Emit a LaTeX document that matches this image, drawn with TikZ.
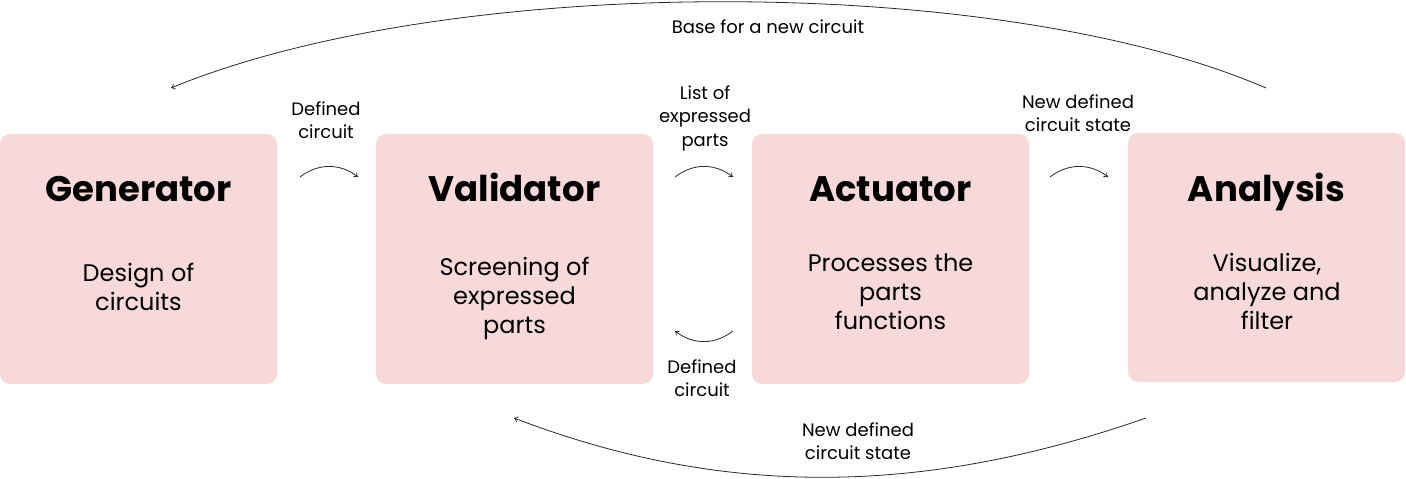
\documentclass[tikz,border=0pt]{standalone}
\usepackage{fontspec}
\setmainfont{Poppins}
\usetikzlibrary{arrows.meta}
\definecolor{boxpink}{RGB}{247,217,218}
\definecolor{linegray}{RGB}{40,40,40}
\tikzset{
  stagebox/.style={fill=boxpink, rounded corners=10pt, minimum width=277pt, minimum height=250pt, inner sep=0pt},
  stagetitle/.style={font=\fontsize{35.5}{40}\selectfont\bfseries, anchor=base},
  stagetext/.style={font=\fontsize{24}{29}\selectfont, align=center},
  flowlabel/.style={font=\fontsize{18}{23.5}\selectfont, align=center},
  flowarrow/.style={draw=linegray, line width=0.8pt, -{To[length=4pt,width=6pt]}}
}
\begin{document}
\begin{tikzpicture}[x=1pt,y=-1pt]
  \useasboundingbox (0,0) rectangle (1406,479);

  % Drawing the four stages
  \node [stagebox] (generator) at (138.5,259) {};
  \node [stagebox] (validator) at (514.5,259) {};
  \node [stagebox] (actuator) at (890.5,259) {};
  \node [stagebox, minimum height=249pt] (analysis) at (1266.5,257.5) {};

  % Stage titles
  \node [stagetitle] (generatortitle) at (138.5,201) {Generator};
  \node [stagetitle] (validatortitle) at (514.5,201) {Validator};
  \node [stagetitle] (actuatortitle) at (890.5,201) {Actuator};
  \node [stagetitle] (analysistitle) at (1266.5,201) {Analysis};

  % Stage descriptions
  \node [stagetext] (generatortext) at (138.5,287) {Design of\\circuits};
  \node [stagetext] (validatortext) at (514.5,298) {Screening of\\expressed\\parts};
  \node [stagetext] (actuatortext) at (890.5,292) {Processes the\\parts\\functions};
  \node [stagetext] (analysistext) at (1267,291) {Visualize,\\analyze and\\filter};

  % Marking the end points of the short arrows
  \coordinate (genout) at (300,177);
  \coordinate (valin) at (358,177);
  \coordinate (valout) at (675,177);
  \coordinate (actin) at (733,177);
  \coordinate (actout) at (1050,177);
  \coordinate (anain) at (1108,177);
  \coordinate (actback) at (733,331);
  \coordinate (valback) at (675,331);

  % Drawing the short arrows
  \draw [flowarrow] (genout) .. controls (318,163) and (340,163) .. (valin);
  \draw [flowarrow] (valout) .. controls (693,163) and (715,163) .. (actin);
  \draw [flowarrow] (actout) .. controls (1068,163) and (1090,163) .. (anain);
  \draw [flowarrow] (actback) .. controls (715,345) and (693,345) .. (valback);

  % Labels of the short arrows
  \node [flowlabel] (definedlabel) at (326,120) {Defined\\circuit};
  \node [flowlabel] (listlabel) at (705,118) {List of\\expressed\\parts};
  \node [flowlabel] (newstatelabel) at (1078,113) {New defined\\circuit state};
  \node [flowlabel] (backlabel) at (702,378) {Defined\\circuit};

  % Marking the end points of the long arrows
  \coordinate (topstart) at (1266,88);
  \coordinate (topend) at (171,88);
  \coordinate (bottomstart) at (1146,418);
  \coordinate (bottomend) at (514,418);

  % Drawing the long arrows
  \draw [flowarrow] (topstart) .. controls (1000,-27) and (450,-27) .. (topend);
  \draw [flowarrow] (bottomstart) .. controls (920,497) and (720,497) .. (bottomend);

  % Labels of the long arrows
  \node [flowlabel] (baselabel) at (768,27) {Base for a new circuit};
  \node [flowlabel] (bottomlabel) at (858,441) {New defined\\circuit state};
\end{tikzpicture}
\end{document}
